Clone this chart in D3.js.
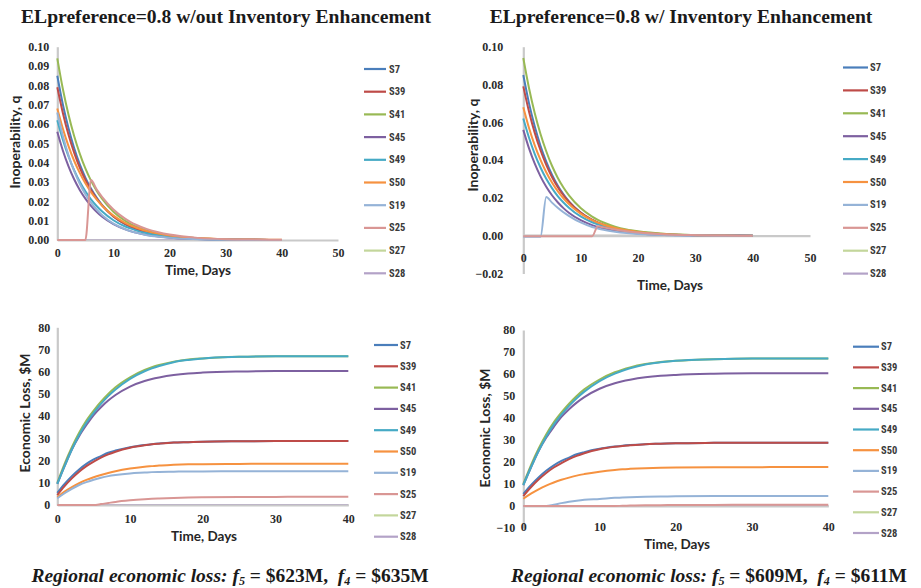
<!DOCTYPE html>
<html>
<head>
<meta charset="utf-8">
<script src="https://cdn.jsdelivr.net/npm/d3@7"></script>
<style>
  html, body { margin: 0; padding: 0; background: #fff; }
  svg { display: block; }
</style>
</head>
<body>
<svg id="chart" width="921" height="588"></svg>
<script>
// Time steps (days) at which each series is sampled
const days = [0, 1, 2, 3, 4, 5, 6, 7, 8, 10, 12, 13, 14, 16, 18, 20, 25, 30, 35, 40];

const seriesNames = ["S7", "S39", "S41", "S45", "S49", "S50", "S19", "S25", "S27", "S28"];
const seriesColors = ["#4a7ebb", "#be4b48", "#98b954", "#7d60a0", "#46aac5", "#f69240",
                      "#95b3d7", "#d99694", "#c3d69b", "#b3a2c7"];

// Inoperability q, without inventory enhancement (rows follow seriesNames)
const qWithout = [
  [0.085, 0.0700, 0.0578, 0.0476, 0.0392, 0.0323, 0.0266, 0.0219, 0.0180, 0.0122, 0.0083, 0.0068, 0.0056, 0.0038, 0.0026, 0.0017, 0.0006, 0.0002, 0.0001, 0],
  [0.079, 0.0656, 0.0544, 0.0452, 0.0375, 0.0311, 0.0258, 0.0214, 0.0178, 0.0122, 0.0085, 0.0070, 0.0058, 0.0040, 0.0028, 0.0019, 0.0007, 0.0003, 0.0001, 0],
  [0.094, 0.0780, 0.0648, 0.0538, 0.0447, 0.0370, 0.0307, 0.0255, 0.0212, 0.0146, 0.0101, 0.0084, 0.0070, 0.0048, 0.0033, 0.0023, 0.0009, 0.0003, 0.0001, 0],
  [0.056, 0.0462, 0.0381, 0.0314, 0.0259, 0.0214, 0.0177, 0.0146, 0.0120, 0.0082, 0.0056, 0.0046, 0.0038, 0.0026, 0.0018, 0.0012, 0.0005, 0.0002, 0.0001, 0],
  [0.062, 0.0518, 0.0432, 0.0361, 0.0301, 0.0252, 0.0210, 0.0176, 0.0147, 0.0102, 0.0071, 0.0060, 0.0050, 0.0035, 0.0024, 0.0017, 0.0007, 0.0003, 0.0001, 0],
  [0.068, 0.0575, 0.0486, 0.0410, 0.0347, 0.0293, 0.0248, 0.0210, 0.0177, 0.0126, 0.0090, 0.0076, 0.0065, 0.0046, 0.0033, 0.0023, 0.0010, 0.0004, 0.0002, 0.0001],
  [0.066, 0.0538, 0.0438, 0.0357, 0.0291, 0.0237, 0.0193, 0.0158, 0.0128, 0.0085, 0.0057, 0.0046, 0.0038, 0.0025, 0.0017, 0.0011, 0.0004, 0.0001, 0, 0],
  [0, 0, 0, 0, 0, 0, 0.031, 0.0262, 0.0222, 0.0158, 0.0112, 0.0094, 0.0079, 0.0056, 0.0040, 0.0028, 0.0011, 0.0004, 0.0002, 0.0001],
  [0, 0, 0, 0, 0, 0, 0, 0, 0, 0, 0, 0, 0, 0, 0, 0, 0, 0, 0, 0],
  [0, 0, 0, 0, 0, 0, 0, 0, 0, 0, 0, 0, 0, 0, 0, 0, 0, 0, 0, 0]
];

// Inoperability q, with inventory enhancement
const qWith = [
  [0.085, 0.0700, 0.0578, 0.0476, 0.0392, 0.0323, 0.0266, 0.0219, 0.0180, 0.0122, 0.0083, 0.0068, 0.0056, 0.0038, 0.0026, 0.0017, 0.0006, 0.0002, 0.0001, 0],
  [0.079, 0.0656, 0.0544, 0.0452, 0.0375, 0.0311, 0.0258, 0.0214, 0.0178, 0.0122, 0.0085, 0.0070, 0.0058, 0.0040, 0.0028, 0.0019, 0.0007, 0.0003, 0.0001, 0],
  [0.094, 0.0780, 0.0648, 0.0538, 0.0447, 0.0370, 0.0307, 0.0255, 0.0212, 0.0146, 0.0101, 0.0084, 0.0070, 0.0048, 0.0033, 0.0023, 0.0009, 0.0003, 0.0001, 0],
  [0.056, 0.0462, 0.0381, 0.0314, 0.0259, 0.0214, 0.0177, 0.0146, 0.0120, 0.0082, 0.0056, 0.0046, 0.0038, 0.0026, 0.0018, 0.0012, 0.0005, 0.0002, 0.0001, 0],
  [0.062, 0.0518, 0.0432, 0.0361, 0.0301, 0.0252, 0.0210, 0.0176, 0.0147, 0.0102, 0.0071, 0.0060, 0.0050, 0.0035, 0.0024, 0.0017, 0.0007, 0.0003, 0.0001, 0],
  [0.068, 0.0570, 0.0478, 0.0401, 0.0336, 0.0282, 0.0236, 0.0198, 0.0166, 0.0117, 0.0082, 0.0069, 0.0058, 0.0041, 0.0029, 0.0020, 0.0008, 0.0003, 0.0001, 0],
  [-0.0005, -0.0005, -0.0005, -0.0005, 0.0205, 0.0175, 0.0148, 0.0124, 0.0104, 0.0070, 0.0046, 0.0038, 0.0031, 0.0021, 0.0014, 0.0009, 0.0003, 0.0001, 0, 0],
  [-0.0003, -0.0003, -0.0003, -0.0003, -0.0003, -0.0003, -0.0003, -0.0003, -0.0003, -0.0003, -0.0003, 0.0050, 0.0044, 0.0033, 0.0024, 0.0017, 0.0007, 0.0003, 0.0001, 0],
  [0, 0, 0, 0, 0, 0, 0, 0, 0, 0, 0, 0, 0, 0, 0, 0, 0, 0, 0, 0],
  [0, 0, 0, 0, 0, 0, 0, 0, 0, 0, 0, 0, 0, 0, 0, 0, 0, 0, 0, 0]
];

// Cumulative economic loss ($M), without inventory enhancement
const lossWithout = [
  [5.5, 9.5, 13.0, 16.0, 18.5, 20.5, 22.0, 23.5, 24.5, 26.0, 27.0, 27.4, 27.7, 28.1, 28.3, 28.5, 28.7, 28.8, 28.8, 28.8],
  [4.5, 8.5, 12.0, 15.0, 17.5, 19.5, 21.3, 22.8, 24.0, 25.8, 26.9, 27.3, 27.6, 28.1, 28.3, 28.5, 28.7, 28.8, 28.8, 28.8],
  [10.0, 18.5, 26.0, 32.5, 38.0, 42.5, 46.5, 50.0, 53.0, 57.5, 60.8, 62.0, 63.0, 64.5, 65.5, 66.0, 66.7, 67.0, 67.0, 67.0],
  [9.5, 17.5, 25.0, 31.0, 36.0, 40.5, 44.0, 47.0, 49.5, 53.3, 55.8, 56.7, 57.4, 58.5, 59.2, 59.6, 60.1, 60.3, 60.3, 60.3],
  [9.5, 17.5, 25.0, 31.5, 37.0, 41.5, 45.5, 49.0, 52.0, 56.8, 60.2, 61.5, 62.6, 64.3, 65.3, 66.0, 66.7, 67.0, 67.0, 67.0],
  [3.5, 6.0, 8.0, 9.8, 11.3, 12.5, 13.5, 14.4, 15.2, 16.4, 17.2, 17.5, 17.8, 18.1, 18.3, 18.4, 18.5, 18.6, 18.6, 18.6],
  [3.0, 5.3, 7.3, 9.0, 10.3, 11.4, 12.3, 13.0, 13.5, 14.2, 14.6, 14.8, 14.9, 15.0, 15.1, 15.1, 15.2, 15.2, 15.2, 15.2],
  [0, 0, 0, 0, 0, 0, 0.4, 0.9, 1.4, 2.1, 2.6, 2.8, 2.95, 3.2, 3.35, 3.45, 3.6, 3.65, 3.7, 3.7],
  [0, 0, 0, 0, 0, 0, 0, 0, 0, 0, 0, 0, 0, 0, 0, 0, 0, 0, 0, 0],
  [0, 0, 0, 0, 0, 0, 0, 0, 0, 0, 0, 0, 0, 0, 0, 0, 0, 0, 0, 0]
];

// Cumulative economic loss ($M), with inventory enhancement
const lossWith = [
  [5.5, 9.5, 13.0, 16.0, 18.5, 20.5, 22.0, 23.5, 24.5, 26.0, 27.0, 27.4, 27.7, 28.1, 28.3, 28.5, 28.7, 28.8, 28.8, 28.8],
  [4.5, 8.5, 12.0, 15.0, 17.5, 19.5, 21.3, 22.8, 24.0, 25.8, 26.9, 27.3, 27.6, 28.1, 28.3, 28.5, 28.7, 28.8, 28.8, 28.8],
  [10.0, 18.5, 26.0, 32.5, 38.0, 42.5, 46.5, 50.0, 53.0, 57.5, 60.8, 62.0, 63.0, 64.5, 65.5, 66.0, 66.7, 67.0, 67.0, 67.0],
  [9.5, 17.5, 25.0, 31.0, 36.0, 40.5, 44.0, 47.0, 49.5, 53.3, 55.8, 56.7, 57.4, 58.5, 59.2, 59.6, 60.1, 60.3, 60.3, 60.3],
  [9.5, 17.5, 25.0, 31.5, 37.0, 41.5, 45.5, 49.0, 52.0, 56.8, 60.2, 61.5, 62.6, 64.3, 65.3, 66.0, 66.7, 67.0, 67.0, 67.0],
  [3.3, 5.6, 7.6, 9.3, 10.7, 11.9, 12.9, 13.8, 14.5, 15.6, 16.4, 16.7, 16.9, 17.2, 17.4, 17.5, 17.6, 17.65, 17.7, 17.7],
  [0, 0, 0, 0, 0.6, 1.3, 1.9, 2.4, 2.8, 3.2, 3.7, 3.85, 4.0, 4.2, 4.3, 4.4, 4.5, 4.55, 4.55, 4.55],
  [0, 0, 0, 0, 0, 0, 0, 0, 0, 0, 0, 0.1, 0.18, 0.3, 0.38, 0.43, 0.5, 0.52, 0.53, 0.53],
  [0, 0, 0, 0, 0, 0, 0, 0, 0, 0, 0, 0, 0, 0, 0, 0, 0, 0, 0, 0],
  [0, 0, 0, 0, 0, 0, 0, 0, 0, 0, 0, 0, 0, 0, 0, 0, 0, 0, 0, 0]
];

const titles = ["ELpreference=0.8 w/out Inventory Enhancement", "ELpreference=0.8 w/ Inventory Enhancement"];
const captionF5 = ["$623M", "$609M"];
const captionF4 = ["$635M", "$611M"];

const qTicksWithout = d3.range(0, 0.1001, 0.01);
const qTicksWith = d3.range(-0.02, 0.1001, 0.02);
const dayTicks50 = [0, 10, 20, 30, 40, 50];
const dayTicks40 = [0, 10, 20, 30, 40];
const lossTicksWithout = d3.range(0, 81, 10);
const lossTicksWith = d3.range(-10, 81, 10);

// Panel layout
const panels = [
  { data: qWithout, xDomain: [0, 50], xRange: [57.3, 338], yDomain: [0, 0.10], yRange: [240, 46.7],
    xTicks: dayTicks50, yTicks: qTicksWithout, yFmt: d3.format(".2f"), xPad: 8, yPad: 8,
    yLabel: "Inoperability, q", yLabelPos: [14, 142], xLabelPos: [198, 270],
    legend: { x1: 364, x2: 386, tx: 389, y0: 69, dy: 22.7 } },
  { data: qWith, xDomain: [0, 50], xRange: [523.3, 810], yDomain: [-0.02, 0.10], yRange: [273.5, 46.7],
    xTicks: dayTicks50, yTicks: qTicksWith, yFmt: d3.format(".2f"), xPad: 18, yPad: 20,
    yLabel: "Inoperability, q", yLabelPos: [472, 145], xLabelPos: [670, 285],
    legend: { x1: 843, x2: 868, tx: 870, y0: 67.5, dy: 22.9 } },
  { data: lossWithout, xDomain: [0, 40], xRange: [57.3, 348.3], yDomain: [0, 80], yRange: [505, 327.3],
    xTicks: dayTicks40, yTicks: lossTicksWithout, yFmt: d3.format("d"), xPad: 9, yPad: 7,
    yLabel: "Economic Loss, $M", yLabelPos: [24, 413], xLabelPos: [204, 536],
    legend: { x1: 374, x2: 398, tx: 400, y0: 345, dy: 21.3 } },
  { data: lossWith, xDomain: [0, 40], xRange: [523.3, 828.3], yDomain: [-10, 80], yRange: [528, 330],
    xTicks: dayTicks40, yTicks: lossTicksWith, yFmt: d3.format("d"), xPad: 16, yPad: 8,
    yLabel: "Economic Loss, $M", yLabelPos: [484, 428], xLabelPos: [677, 544],
    legend: { x1: 853, x2: 879, tx: 881, y0: 346.7, dy: 20.7 } }
];

const svg = d3.select("#chart");
const tickFont = "'Liberation Serif', 'Times New Roman', serif";
const sansFont = "Lato, 'Open Sans', 'Liberation Sans', sans-serif";
const axisGray = "#c9c9c9";

// Series that stay at zero are drawn beneath the axes; the rest go on top
const underAxes = [8, 9];
const overAxes = [0, 1, 2, 3, 4, 5, 6, 7];

panels.forEach(p => {
  const x = d3.scaleLinear().domain(p.xDomain).range(p.xRange);
  const y = d3.scaleLinear().domain(p.yDomain).range(p.yRange);
  const g = svg.append("g");

  const line = d3.line()
    .x((d, i) => x(days[i]))
    .y(d => y(d))
    .curve(d3.curveMonotoneX);

  const drawSeries = si => {
    g.append("path")
      .datum(p.data[si])
      .attr("fill", "none")
      .attr("stroke", seriesColors[si])
      .attr("stroke-width", 2)
      .attr("stroke-linejoin", "round")
      .attr("d", line);
  };

  underAxes.forEach(drawSeries);

  // Y axis
  const yAxis = g.append("g")
    .attr("transform", `translate(${p.xRange[0]},0)`)
    .call(d3.axisLeft(y).tickValues(p.yTicks).tickFormat(p.yFmt).tickSize(0).tickPadding(p.yPad));
  // X axis sits on the zero line
  const xAxis = g.append("g")
    .attr("transform", `translate(0,${y(0)})`)
    .call(d3.axisBottom(x).tickValues(p.xTicks).tickSize(0).tickPadding(p.xPad));

  [yAxis, xAxis].forEach(a => {
    a.select(".domain").attr("stroke", axisGray).attr("stroke-width", 2.2);
    a.selectAll("text")
      .attr("font-family", tickFont)
      .attr("font-weight", "bold")
      .attr("font-size", 12)
      .attr("fill", "#2b2b2b");
  });

  overAxes.forEach(drawSeries);

  // Axis titles
  g.append("text")
    .attr("transform", `translate(${p.yLabelPos[0]},${p.yLabelPos[1]}) rotate(-90)`)
    .attr("text-anchor", "middle")
    .attr("dominant-baseline", "central")
    .attr("font-family", sansFont)
    .attr("font-weight", "bold")
    .attr("font-size", 14)
    .attr("fill", "#262626")
    .text(p.yLabel);

  g.append("text")
    .attr("x", p.xLabelPos[0])
    .attr("y", p.xLabelPos[1])
    .attr("text-anchor", "middle")
    .attr("dominant-baseline", "central")
    .attr("font-family", sansFont)
    .attr("font-weight", "bold")
    .attr("font-size", 13.5)
    .attr("fill", "#262626")
    .text("Time, Days");

  // Legend
  const lg = g.append("g");
  seriesNames.forEach((name, i) => {
    const yy = p.legend.y0 + i * p.legend.dy;
    lg.append("line")
      .attr("x1", p.legend.x1).attr("x2", p.legend.x2)
      .attr("y1", yy).attr("y2", yy)
      .attr("stroke", seriesColors[i])
      .attr("stroke-width", 2.2);
    lg.append("text")
      .attr("x", p.legend.tx)
      .attr("y", yy)
      .attr("dominant-baseline", "central")
      .attr("font-family", "'Liberation Sans Narrow', 'Roboto Condensed', " + sansFont)
      .attr("font-weight", "bold")
      .attr("font-size", 10.5)
      .attr("fill", "#3a3a3a")
      .text(name);
  });
});

// Titles above each column
const titleX = [226, 681];
titles.forEach((t, i) => {
  svg.append("text")
    .attr("x", titleX[i])
    .attr("y", 23)
    .attr("text-anchor", "middle")
    .attr("font-family", "'Liberation Serif', 'Times New Roman', serif")
    .attr("font-weight", "bold")
    .attr("font-size", 19.6)
    .attr("fill", "#1a1a1a")
    .text(t);
});

// Captions with regional loss totals
const capX = [230, 709];
captionF5.forEach((v, i) => {
  const txt = svg.append("text")
    .attr("x", capX[i])
    .attr("y", 582)
    .attr("text-anchor", "middle")
    .attr("font-family", "'Liberation Serif', 'Times New Roman', serif")
    .attr("font-weight", "bold")
    .attr("font-size", 19.5)
    .attr("fill", "#1a1a1a");
  txt.append("tspan").attr("font-style", "italic").text("Regional economic loss: ");
  txt.append("tspan").attr("font-style", "italic").text("f");
  txt.append("tspan").attr("font-style", "italic").attr("font-size", 12).attr("dy", 3).text("5");
  txt.append("tspan").attr("dy", -3).text(" = " + v + ",\u00A0\u00A0");
  txt.append("tspan").attr("font-style", "italic").text("f");
  txt.append("tspan").attr("font-style", "italic").attr("font-size", 12).attr("dy", 3).text("4");
  txt.append("tspan").attr("dy", -3).text(" = " + captionF4[i]);
});
</script>
</body>
</html>
